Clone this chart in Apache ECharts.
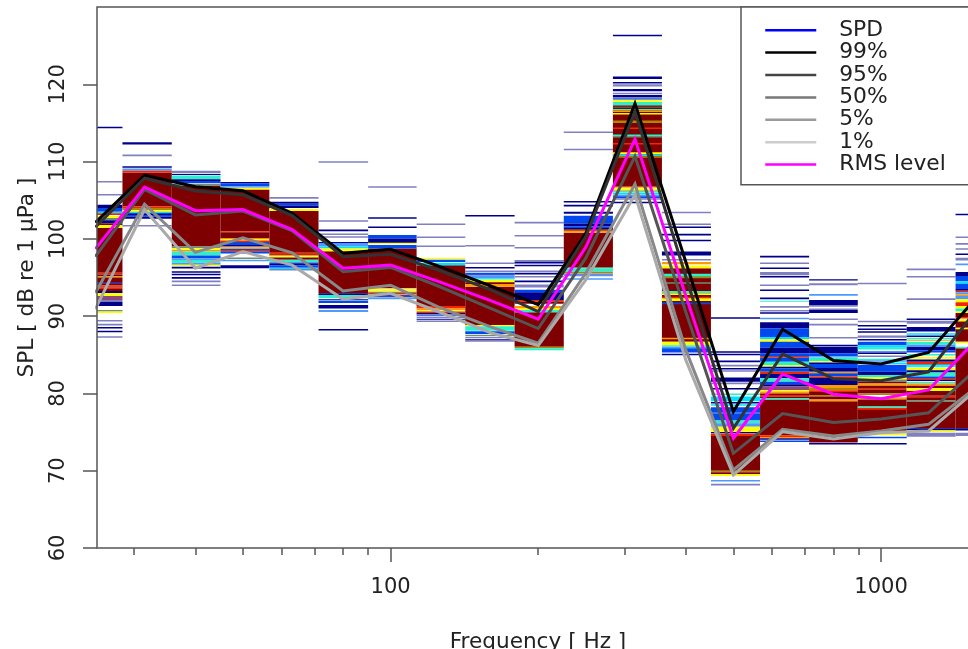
<!DOCTYPE html>
<html><head><meta charset="utf-8">
<style>html,body{margin:0;padding:0;background:#fff;overflow:hidden}#c{width:968px;height:649px}</style>
<script src="https://cdn.jsdelivr.net/npm/echarts@6/dist/echarts.min.js"></script>
</head><body><div id="c"></div>
<script>
// Third-octave bands
const freqs=[25,31.5,40,50,63,80,100,125,160,200,250,315,400,500,630,800,1000,1250,1600];
const edges=[22.5,28.4,35.8,45,56.6,71.3,90,113,142,179,225.5,284,357.5,450,566.7,713.4,896.5,1128,1419,1786];
const minorTickValues=[30,40,50,60,70,80,90,200,300,400,500,600,700,800,900];
const majorTickValues=[100,1000];
const yTickValues=[60,70,80,90,100,110,120];
// Percentile and RMS levels (dB)
const p99=[102.1,108.25,106.75,106.23,103.3,98.13,98.65,96.5,93.9,91.5,100.7,117.5,97.0,77.65,88.3,84.25,83.8,85.3,93.1];
const p95=[101.5,107.85,106.2,105.7,103.0,97.7,98.0,95.97,93.4,90.6,100.3,116.45,95.1,75.5,85.1,81.9,81.65,82.8,91.6];
const p50=[97.7,106.4,103.1,103.6,101.05,95.75,96.3,93.9,91.0,88.4,97.5,110.7,90.5,72.25,77.4,76.25,76.7,77.5,83.7];
const p05=[93.0,104.5,98.25,100.15,98.2,93.25,94.0,91.2,88.6,86.5,95.55,107.1,85.6,70.1,75.35,74.5,75.15,76.0,81.3];
const p01=[90.9,103.8,96.2,98.35,96.6,92.2,92.95,90.6,87.85,86.2,94.7,105.7,84.3,69.45,75.05,74.1,74.9,75.15,81.0];
const rms=[98.7,106.7,103.65,103.8,101.2,96.2,96.6,94.5,92.0,89.6,98.9,112.9,92.6,74.2,82.5,79.9,79.3,80.45,87.6];
// Density class colours
const densityColors={n:'#00008b',p:'#8080c0',b:'#0048f0',l:'#4d9aff',c:'#00e0ff',t:'#2cf0c8',y:'#ffff00',o:'#ff9a00',r:'#f02800',k:'#b08800',g:'#6f8f70',m:'#8a4a7a',d:'#7f0000',w:'#ffffff'};
// SPD strips per band: [upper dB, lower dB, density class]
const spd25=[[101.45,95.6,'d'],[114.5,114.3,'n'],[107.5,107.3,'p'],[105.8,105.6,'p'],[104.4,104,'n'],[104,103.5,'b'],[103.5,103.3,'c'],[103.3,103.1,'r'],[103,102.7,'y'],[102.7,102.4,'g'],[102.4,102,'n'],[102,101.8,'d'],[101.8,101.45,'y'],[95.6,95.4,'r'],[95.4,95.2,'d'],[95.2,95,'o'],[95,94.4,'d'],[94.4,94.2,'n'],[94.2,94,'d'],[94,93.8,'r'],[93.8,93.7,'d'],[93.7,93.5,'r'],[93.5,93.25,'d'],[93.25,93,'n'],[93,92.6,'y'],[92.6,92.1,'m'],[92.1,91.85,'p'],[91.85,91.3,'n'],[90.8,90.6,'g'],[90.6,90.4,'y'],[89.5,89.3,'p'],[89,88.8,'p'],[88.6,88.4,'n'],[88.1,87.9,'n'],[87.4,87.2,'p']];
const spd31=[[108.55,104.2,'d'],[112.5,112.2,'n'],[110.9,110.7,'p'],[109.4,109.2,'n'],[109.1,108.8,'l'],[108.8,108.55,'r'],[104.2,104,'r'],[104,103.75,'k'],[103.75,103.5,'y'],[103.5,103.3,'c'],[103.3,103.1,'n'],[103.1,102.85,'b'],[102.85,102.6,'n'],[101.8,101.6,'p']];
const spd40=[[106.9,99,'d'],[108.8,108.5,'p'],[108.4,108.25,'n'],[108.2,107.75,'t'],[107.7,107.5,'n'],[107.5,107.2,'b'],[107.1,106.9,'g'],[99,98.8,'g'],[98.8,98.55,'y'],[98.55,98.35,'o'],[98.35,97.85,'t'],[97.85,97.5,'b'],[97.5,97.25,'l'],[97.25,96.9,'t'],[96.9,96.65,'l'],[96.65,96.45,'y'],[96.4,96.15,'n'],[95.8,95.6,'n'],[95.5,95.3,'n'],[95.05,94.85,'n'],[94.6,94.4,'p'],[94.1,93.9,'p']];
const spd50=[[106.4,101,'d'],[107.35,107.15,'n'],[107.15,106.8,'b'],[106.8,106.6,'l'],[106.6,106.4,'y'],[101,100.85,'r'],[100.85,100.1,'d'],[100.1,100,'r'],[100,99.8,'y'],[99.8,99.6,'r'],[99.6,99.5,'n'],[99.5,99.2,'b'],[99.2,99,'n'],[98.9,98.7,'o'],[98.7,98.55,'b'],[98.55,98.4,'r'],[98.4,98.1,'b'],[97.6,97.4,'g'],[97.3,97.1,'l'],[96.6,96.2,'n']];
const spd63=[[103.6,98.2,'d'],[105.4,105.2,'p'],[104.8,104.55,'n'],[104.55,104.3,'b'],[104.3,104,'n'],[103.85,103.6,'y'],[98.2,98,'r'],[98,97.9,'d'],[97.9,97.75,'o'],[97.75,97.6,'y'],[97.6,97.3,'d'],[97.3,97,'t'],[97,96.85,'l'],[96.85,96.6,'n'],[96.6,96.25,'b'],[96.25,96.1,'c'],[96.1,95.9,'p']];
const spd80=[[98.4,92.95,'d'],[110.05,109.85,'p'],[102.4,102.2,'p'],[101.2,101,'n'],[100.7,100.5,'p'],[100.35,100.15,'p'],[99.6,99.45,'n'],[99.45,99,'l'],[99,98.75,'c'],[98.75,98.4,'y'],[92.95,92.75,'n'],[92.75,92.3,'t'],[92.2,92.05,'n'],[92,91.7,'b'],[91.45,91,'n'],[90.8,90.55,'l'],[88.35,88.15,'n']];
const spd100=[[98.75,93.6,'d'],[106.8,106.6,'p'],[102.8,102.6,'n'],[101.6,101.4,'n'],[100.5,100.05,'b'],[100.05,99.5,'n'],[99.45,99.3,'y'],[99.2,98.75,'b'],[93.5,93.2,'y'],[93.15,93,'g'],[93,92.8,'r'],[92.7,92.5,'n'],[92.45,92.2,'l']];
const spd125=[[96.6,91.3,'d'],[102,101.8,'p'],[100.3,100.1,'p'],[99.15,98.95,'p'],[97.55,97.35,'y'],[97.3,97,'b'],[96.9,96.6,'c'],[91.3,91,'r'],[91,90.75,'o'],[90.75,90.6,'y'],[90.6,90.4,'r'],[90.4,90.2,'n'],[90.1,90,'b'],[89.9,89.7,'p'],[89.6,89.5,'n'],[89.45,89.25,'p']];
const spd160=[[93.8,88.85,'d'],[103.1,102.9,'n'],[99.2,99,'p'],[96.95,96.75,'p'],[96.35,96.15,'n'],[95.9,95.7,'p'],[95.6,95.4,'b'],[95.4,95.3,'n'],[95.3,94.9,'l'],[94.9,94.75,'c'],[94.7,94.4,'y'],[94.4,94.15,'d'],[94.15,93.8,'o'],[88.85,88.7,'y'],[88.7,88.1,'t'],[88.05,87.7,'b'],[87.6,87.4,'g'],[87.3,87.15,'p'],[87,86.85,'n'],[86.85,86.7,'p']];
const spd200=[[90.5,86.05,'d'],[102.2,102,'p'],[100.5,100.3,'p'],[98.95,98.75,'p'],[97.25,97,'p'],[97,96.8,'n'],[96.65,96.45,'n'],[95.9,95.7,'p'],[95.6,95.4,'n'],[95.2,95,'p'],[94.6,94.4,'n'],[94.1,93.7,'p'],[93.4,93.1,'b'],[93.1,92.1,'n'],[92.1,91.85,'r'],[91.85,91.6,'d'],[91.3,91,'o'],[91,90.8,'y'],[90.8,90.5,'t'],[86.05,85.85,'k'],[85.85,85.6,'t']];
const spd250=[[100.8,96.35,'d'],[113.9,113.7,'p'],[111.65,111.45,'p'],[104.9,104.7,'n'],[104.4,104.2,'n'],[103.5,103.25,'n'],[103,102,'b'],[102,101.6,'n'],[101.6,101.4,'b'],[101.4,101.25,'n'],[101.25,101.05,'d'],[101.05,100.8,'o'],[96.35,96.2,'g'],[96.2,95.75,'t'],[95.75,95.55,'k'],[95.5,95.4,'n'],[95.35,95.15,'l'],[94.9,94.7,'l']];
const spd315=[[117.3,106.75,'d'],[126.4,126.2,'n'],[121,120.7,'n'],[120.3,120.1,'n'],[120,119.7,'p'],[119.4,119.1,'n'],[118.9,118.7,'p'],[118.6,118.3,'n'],[118.2,118,'b'],[118,117.75,'y'],[117.7,117.3,'t'],[117.1,117,'g'],[116.8,116.6,'t'],[116.6,116.4,'o'],[116.3,116.1,'y'],[115.3,115,'k'],[114.4,114.2,'r'],[113.5,113.3,'t'],[113.3,113.1,'g'],[112.4,112.2,'r'],[111.2,110.9,'y'],[110.9,110.7,'c'],[110.7,110.5,'k'],[106.75,106.6,'o'],[106.55,106.3,'y'],[106.3,106.2,'o'],[106.2,106,'t'],[105.95,105.75,'c'],[105.7,105.5,'l'],[105.5,105.25,'b'],[105.25,105.05,'p'],[104.8,104.6,'n']];
const spd400=[[96.2,86.7,'d'],[103.5,103.3,'p'],[102,101.8,'p'],[101.6,101.4,'n'],[100.65,100.45,'n'],[99.9,99.7,'n'],[98.35,97.85,'n'],[97.4,97.2,'p'],[97,96.7,'o'],[96.55,96.2,'y'],[95.5,95.1,'t'],[95.1,94.9,'k'],[94.4,94.2,'g'],[93.25,92.95,'t'],[92.95,92.75,'y'],[92.5,92.3,'r'],[92.3,91.95,'y'],[91.75,91.55,'b'],[87.2,87,'o'],[86.7,86.25,'y'],[86.25,86.05,'t'],[86.05,85.85,'l'],[85.85,85.3,'b'],[85.15,84.95,'n']];
const spd500=[[74.5,70,'d'],[89.85,89.65,'n'],[85.45,85.25,'n'],[85.15,84.95,'n'],[84.25,84.05,'n'],[83.7,83.5,'p'],[83.3,83.1,'n'],[83,82.8,'p'],[82.05,81.5,'n'],[81.4,81.2,'p'],[80.7,80.5,'n'],[80,79.8,'t'],[79.6,79,'c'],[78.9,78.7,'n'],[78.6,78.4,'c'],[78.2,77.5,'b'],[77.45,76.5,'b'],[76.5,76.15,'t'],[76.15,75.7,'l'],[75.7,75.05,'y'],[75,74.85,'n'],[74.8,74.5,'r'],[70,69.8,'k'],[69.8,69.55,'d'],[69.55,69.3,'y'],[68.8,68.6,'l'],[68.3,68.1,'p']];
const spd630=[[79.2,74.6,'d'],[97.8,97.6,'n'],[96.95,96.75,'p'],[96.3,96.1,'n'],[95.7,95.3,'p'],[95.2,95,'n'],[94.1,93.9,'p'],[93.45,93.25,'n'],[92.4,92.2,'n'],[92,91.85,'t'],[91.3,91.1,'p'],[90.8,90.6,'p'],[90.5,90.3,'n'],[89.8,89.6,'l'],[89.2,88.4,'n'],[88.4,88.2,'b'],[88.2,87.3,'b'],[87.3,87,'c'],[87,86.7,'y'],[86.7,85.9,'b'],[85.9,85.2,'n'],[85.2,84.85,'b'],[84.85,84.65,'r'],[84.65,84.1,'b'],[84.1,83.65,'t'],[83.65,83.45,'y'],[83.45,83.25,'n'],[83.25,82.8,'b'],[82.8,82.5,'r'],[82.5,81.95,'n'],[81.95,81.5,'t'],[81.5,81.2,'b'],[81.2,80.9,'n'],[80.9,80.45,'m'],[80.45,80.25,'y'],[80.25,80,'o'],[80,79.8,'d'],[79.8,79.6,'r'],[79.6,79.4,'d'],[79.4,79.2,'t'],[74.6,74.35,'r'],[74.35,74.2,'o'],[74.2,74,'n'],[73.9,73.7,'b']];
const spd800=[[79,73.65,'d'],[94.77,94.6,'n'],[94.25,94,'p'],[92.85,92.65,'l'],[92.1,91.45,'n'],[91.45,91.2,'p'],[91,90.8,'p'],[90.8,90.4,'n'],[89.7,89.5,'p'],[89,88.8,'p'],[87.3,87.1,'p'],[86.3,86.1,'n'],[86.05,85.2,'n'],[85.2,84.8,'b'],[84.8,84.65,'l'],[84.65,84.2,'t'],[84.15,84,'y'],[84,83.8,'n'],[83.8,83.3,'b'],[83.3,82.8,'n'],[82.8,82.6,'o'],[82.6,82.2,'b'],[82.2,82,'r'],[82,81.1,'n'],[81.1,80.7,'o'],[80.7,80.4,'k'],[80.4,80.2,'r'],[80.2,79.8,'d'],[79.8,79.6,'k'],[79.6,79.2,'d'],[79.2,79,'o'],[73.6,73.4,'n']];
const spd1000=[[78.1,75,'d'],[94.33,94.13,'p'],[89.4,89.2,'p'],[88.85,88.65,'n'],[88.4,88.2,'n'],[88.05,87.85,'n'],[87.5,87.2,'p'],[87.05,86.85,'n'],[86.7,86.25,'b'],[86.25,85.9,'c'],[85.9,85.7,'t'],[85.5,85.3,'l'],[85.3,85.1,'n'],[84.9,84.7,'p'],[84.5,84.3,'t'],[84.3,84.1,'l'],[84,83.8,'c'],[83.7,82.8,'b'],[82.8,82.4,'n'],[82.4,82.1,'t'],[82.1,81.8,'y'],[81.8,81.5,'g'],[81.5,81.3,'d'],[81.3,81,'o'],[81,80.7,'d'],[80.7,80.5,'r'],[80.5,80,'d'],[80,79.8,'k'],[79.5,79.2,'o'],[79.2,78.3,'d'],[78.3,78.1,'t'],[78.1,77.9,'r'],[74.8,74.6,'y'],[74.4,74.2,'b'],[73.6,73.4,'n']];
const spd1250=[[78.9,75.5,'d'],[96.15,95.95,'p'],[95.2,95,'p'],[92.3,92.1,'p'],[89.7,89.5,'n'],[89.4,89,'p'],[88.6,88,'n'],[87.8,87.6,'c'],[87.5,87.3,'n'],[87.2,87,'t'],[86.95,86.8,'o'],[86.7,86.3,'t'],[86.3,86,'l'],[86,85.6,'n'],[85.6,85.3,'b'],[85.1,84.9,'t'],[84.7,84.5,'y'],[84.4,84.1,'n'],[84.1,83.8,'r'],[83.8,83.7,'b'],[83.7,83.4,'t'],[83.3,83,'y'],[83,82.7,'n'],[82.7,82.2,'t'],[82.2,82,'b'],[82,81.8,'r'],[81.8,81.6,'n'],[81.5,81.3,'t'],[81.3,81,'o'],[81,80.7,'d'],[80.7,80.3,'y'],[80.3,79.7,'d'],[79.7,79.5,'r'],[79.5,79.1,'d'],[79.1,78.9,'g'],[75.5,75.25,'n'],[75.2,75,'y'],[74.9,74.4,'p']];
const spd1600=[[85.85,75.5,'d'],[103.25,103.05,'n'],[100.3,100.1,'p'],[99.45,99.25,'p'],[98.8,98.6,'p'],[98.1,97.9,'n'],[97.55,97.2,'p'],[96.8,96.6,'l'],[95.7,95.2,'n'],[95.2,94.5,'b'],[94.5,94.2,'c'],[94.2,93.5,'b'],[93.5,93.3,'n'],[93.3,93.1,'r'],[93.1,92.8,'l'],[92.8,92.6,'o'],[92.6,92.2,'l'],[92.2,91.8,'y'],[91.8,91.3,'r'],[91.3,91,'y'],[91,90.6,'t'],[90.6,90.4,'y'],[90.4,89.9,'d'],[89.9,89.7,'r'],[89.6,89.3,'y'],[89.3,88.5,'d'],[88.5,88.3,'y'],[88.3,86.7,'d'],[86.7,86.5,'y'],[86.05,85.85,'t'],[75.5,75.2,'n'],[74.9,74.5,'p']];
const spdBands=[spd25,spd31,spd40,spd50,spd63,spd80,spd100,spd125,spd160,spd200,spd250,spd315,spd400,spd500,spd630,spd800,spd1000,spd1250,spd1600];

const spdData=[];
spdBands.forEach((strips,i)=>strips.forEach(s=>spdData.push([edges[i],edges[i+1],s[0],s[1],densityColors[s[2]]])));

const FONT='DejaVu Sans', TXT='#222', AX='#555', FS=21, FSN=21.6;
const lineSeries=(name,vals,color,w,z)=>({name,type:'line',data:freqs.map((f,i)=>[f,vals[i]]),showSymbol:false,symbol:'none',lineStyle:{color,width:w,join:'miter'},itemStyle:{color},z,animation:false,clip:true,silent:true});

const xBase={type:'log',logBase:10,min:25.2,max:1584,gridIndex:0,position:'bottom',axisLine:{show:false},splitLine:{show:false},minorTick:{show:false},minorSplitLine:{show:false}};
const legendEntry=(name,color)=>({name,lineStyle:{color,width:2.5},itemStyle:{opacity:0,color:'rgba(0,0,0,0)',borderWidth:0}});
const chart=echarts.init(document.getElementById('c'),null,{renderer:'canvas'});
chart.setOption({
  animation:false,
  backgroundColor:'#fff',
  grid:{show:true,left:97,top:7,width:882,height:541,outerBoundsMode:'none',containLabel:false,borderColor:AX,borderWidth:1.5,backgroundColor:'transparent',z:8},
  xAxis:[
    Object.assign({},xBase,{axisTick:{show:true,customValues:minorTickValues,length:7,lineStyle:{color:AX,width:1.5}},axisLabel:{show:false}}),
    Object.assign({},xBase,{name:'Frequency [ Hz ]',nameLocation:'middle',nameGap:83,nameTextStyle:{fontFamily:FONT,fontSize:FSN,color:TXT},
      axisTick:{show:true,customValues:majorTickValues,length:14,lineStyle:{color:AX,width:1.5}},
      axisLabel:{show:true,customValues:majorTickValues,formatter:v=>String(Math.round(v)),fontFamily:FONT,fontSize:FS,color:TXT,margin:29}})
  ],
  yAxis:{type:'value',min:60,max:130,interval:10,splitLine:{show:false},axisLine:{show:false},
    axisTick:{show:true,customValues:yTickValues,length:14,lineStyle:{color:AX,width:1.5}},
    axisLabel:{customValues:yTickValues,rotate:90,fontFamily:FONT,fontSize:FS,color:TXT,margin:28},
    name:'SPL [ dB re 1 µPa ]',nameLocation:'middle',nameRotate:90,nameGap:59,nameTextStyle:{fontFamily:FONT,fontSize:FSN,color:TXT}},
  legend:{show:true,orient:'vertical',left:741,top:7,align:'left',selectedMode:false,
    data:[legendEntry('SPD','#0000ff'),legendEntry('99%','#000'),legendEntry('95%','#444'),legendEntry('50%','#777'),legendEntry('5%','#999'),legendEntry('1%','#ccc'),legendEntry('RMS level','#ff00ff')],
    backgroundColor:'#fff',borderColor:AX,borderWidth:1.5,padding:[12,60,9,23],
    itemWidth:51,itemHeight:14,itemGap:0,textStyle:{fontFamily:FONT,fontSize:21.8,color:TXT,lineHeight:22.4,padding:[0,0,0,18]},z:20},
  series:[
    {name:'SPD strips',type:'custom',xAxisIndex:0,clip:true,silent:true,animation:false,z:1,encode:{x:[0,1],y:[2,3]},
     data:spdData,
     renderItem:(params,api)=>{
       const a=api.coord([api.value(0),api.value(2)]),b=api.coord([api.value(1),api.value(3)]);
       return {type:'rect',shape:{x:a[0],y:a[1],width:b[0]-a[0],height:b[1]-a[1]},style:{fill:spdData[params.dataIndex][4]}};
     }},
    {name:'SPD',type:'line',data:[],symbol:'none',lineStyle:{color:'#0000ff',width:2.5},itemStyle:{color:'#0000ff'}},
    lineSeries('99%',p99,'#000',3,3),
    lineSeries('95%',p95,'#333',3,4),
    lineSeries('50%',p50,'#555',3,5),
    lineSeries('5%',p05,'#888',3,6),
    lineSeries('1%',p01,'#aaa',3,7),
    lineSeries('RMS level',rms,'#ff00ff',3,7.5)
  ]
});
</script></body></html>
